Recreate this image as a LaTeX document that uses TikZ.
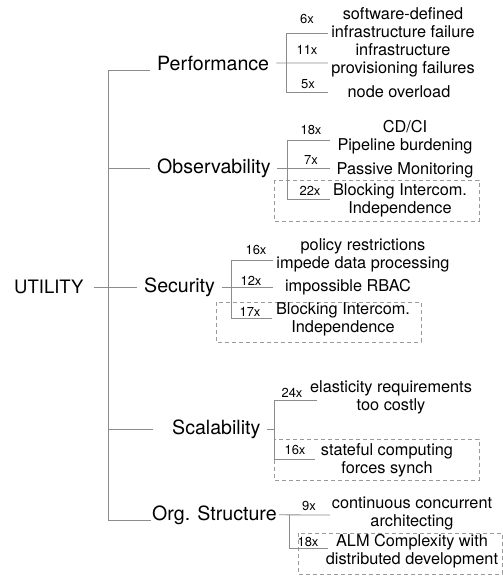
\documentclass[tikz,border=0pt]{standalone}
\usepackage{fontspec}
\setmainfont{TeX Gyre Heros}
\usepackage{tikz}
\usetikzlibrary{calc}
\definecolor{treegray}{HTML}{8C8C8C}
\definecolor{boxgray}{HTML}{9A9A9A}

\begin{document}
\begin{tikzpicture}[x=1pt, y=-1pt,
    cat/.style={font=\fontsize{19.6}{22}\selectfont, inner sep=0pt},
    leaf/.style={font=\fontsize{16.3}{18}\selectfont, align=center, inner sep=0pt},
    cnt/.style={font=\fontsize{13}{15}\selectfont, inner sep=0pt},
    tree/.style={draw=treegray, line width=0.8pt},
    hbox/.style={draw=boxgray, line width=0.8pt, dash pattern=on 4pt off 3pt}]
            \useasboundingbox (0,0) rectangle (503,576);
            %%%%%%%%%%%%%%% Root and quality attributes
            \node[cat, anchor=west, font=\fontsize{18.5}{22}\selectfont] (util) at (14,287) {UTILITY};
            \node[cat, anchor=base west] (perf) at (157,70) {Performance};
            \node[cat, anchor=west] (obs) at (157,168) {Observability};
            \node[cat, anchor=west] (sec) at (144,287) {Security};
            \node[cat, anchor=west] (scal) at (172,429) {Scalability};
            \node[cat, anchor=base west] (org) at (152,520) {Org. Structure};
            % Trunk
            \coordinate (trunk) at (108,0);
            \draw[tree] ([xshift=-7pt]perf.base west) -| (trunk |- org.base west) -- ([xshift=-1pt]org.base west);
            \draw[tree] (trunk |- obs.west) -- ([xshift=-7pt]obs.west);
            \draw[tree] ([xshift=10pt]util.east) -- ([xshift=-7pt]sec.west);
            \draw[tree] (trunk |- scal.west) -- ([xshift=-19pt]scal.west);
            %%%%%%%%%%%%%%% Highlighted scenarios
            \draw[hbox] (274,180) rectangle (479,221);
            \draw[hbox] (216,302) rectangle (421,342);
            \draw[hbox] (274,439) rectangle (479,480);
            \draw[hbox] (298,533) rectangle (502,574);
            %%%%%%%%%%%%%%% Performance
            \coordinate (pj) at (286,0);
            \coordinate (ep1) at (328,33);
            \coordinate (ep2) at (328,63);
            \coordinate (ep3) at (328,92);
            \draw[tree] (ep1) -| (pj |- ep3) -- (ep3);
            \draw[tree] ([xshift=7pt]perf.east) -- (ep2);
            \node[cnt] (np1) at (307,19) {6x};
            \node[cnt] (np2) at (307,50) {11x};
            \node[cnt] (np3) at (308,84) {5x};
            \node[leaf] (p1) at (403,23) {software-defined\\infrastructure failure};
            \node[leaf] (p2) at (403,60.5) {infrastructure\\provisioning failures};
            \node[leaf] (p3) at (399,92) {node overload};
            %%%%%%%%%%%%%%% Observability
            \coordinate (oj) at (287,0);
            \coordinate (eo1) at (330,140);
            \coordinate (eo2) at (330,168);
            \coordinate (eo3) at (330,199);
            \draw[tree] (eo1) -| (oj |- eo3) -- (eo3);
            \draw[tree] ([xshift=6pt]obs.east) -- (eo2);
            \node[cnt] (no1) at (311,130) {18x};
            \node[cnt] (no2) at (311,160) {7x};
            \node[cnt] (no3) at (310,191) {22x};
            \node[leaf] (o1) at (405,137) {CD/CI\\Pipeline burdening};
            \node[leaf] (o2) at (405,170) {Passive Monitoring};
            \node[leaf] (o3) at (400,200) {Blocking Intercom.\\Independence};
            %%%%%%%%%%%%%%% Security
            \coordinate (sj) at (231,0);
            \coordinate (es1) at (273,260);
            \coordinate (es2) at (273,287);
            \coordinate (es3) at (272,318);
            \draw[tree] (es1) -| (sj |- es3) -- (es3);
            \draw[tree] ([xshift=7pt]sec.east) -- (es2);
            \node[cnt] (ns1) at (256,250) {16x};
            \node[cnt] (ns2) at (251,281) {12x};
            \node[cnt] (ns3) at (250,312) {17x};
            \node[leaf] (s1) at (363,255) {policy restrictions\\impede data processing};
            \node[leaf] (s2) at (348,287) {impossible RBAC};
            \node[leaf] (s3) at (343,319) {Blocking Intercom.\\Independence};
            %%%%%%%%%%%%%%% Scalability
            \coordinate (cj) at (274,0);
            \coordinate (ec1) at (317,400);
            \coordinate (ec2) at (315,459);
            \draw[tree] (ec1) -| (cj |- ec2) -- (ec2);
            \draw[tree] ([xshift=6pt]scal.east) -- (cj |- scal.east);
            \node[cnt] (nc1) at (292,393) {24x};
            \node[cnt] (nc2) at (295,450) {16x};
            \node[leaf] (c1) at (391,397.5) {elasticity requirements\\too costly};
            \node[leaf] (c2) at (387,460.5) {stateful computing\\forces synch};
            %%%%%%%%%%%%%%% Org. Structure
            \coordinate (gj) at (289,0);
            \coordinate (eg1) at (330,515);
            \coordinate (eg2) at (328,548);
            \draw[tree] ([xshift=2pt]org.east) -- (eg1);
            \draw[tree] (gj |- eg1) |- (eg2);
            \node[cnt] (ng1) at (309,506) {9x};
            \node[cnt] (ng2) at (308,542) {18x};
            \node[leaf] (g1) at (412,514) {continuous concurrent\\architecting};
            \node[leaf] (g2) at (412,551) {ALM Complexity with\\distributed development};
        \end{tikzpicture}
\end{document}
